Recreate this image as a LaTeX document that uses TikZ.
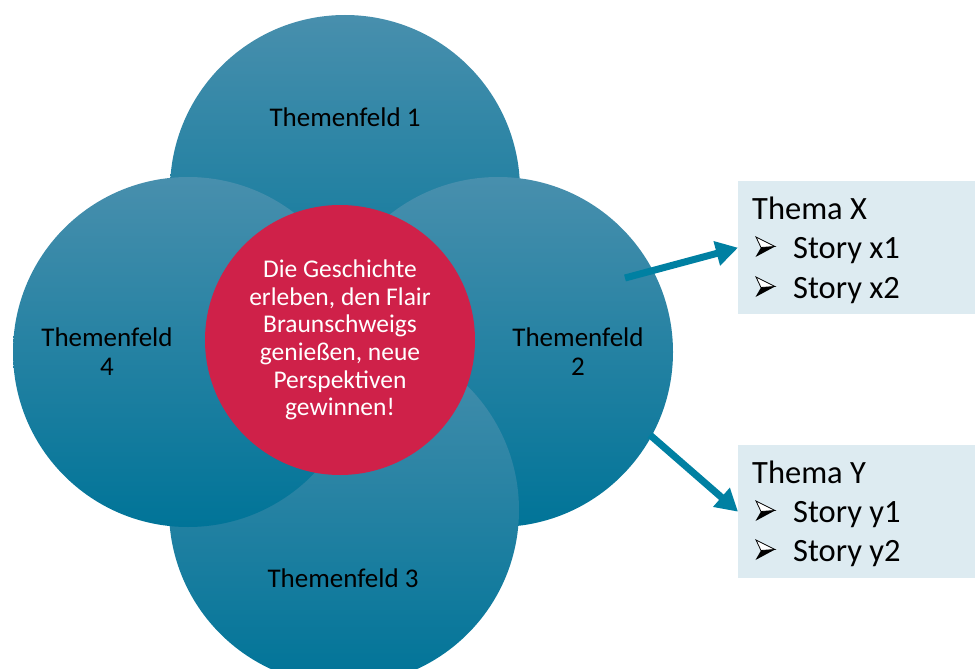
\documentclass[tikz,border=0pt]{standalone}
\usepackage{fontspec}
\setmainfont{Carlito}
\usetikzlibrary{arrows.meta}
\definecolor{circtop}{RGB}{72,143,173}
\definecolor{circmid}{RGB}{0,131,168}
\definecolor{circbot}{RGB}{0,116,152}
\definecolor{centerred}{RGB}{207,33,73}
\definecolor{boxfill}{RGB}{221,235,241}
\definecolor{arrowcol}{RGB}{0,128,162}
\tikzset{
  field/.style={circle, inner sep=0pt, minimum size=350pt, top color=circtop, middle color=circmid, bottom color=circbot, draw=none},
  lbl/.style={font=\fontsize{27}{29}\selectfont, text=black, align=center, inner sep=0pt},
  core/.style={circle, fill=centerred, minimum size=270pt, inner sep=0pt, text=white, font=\fontsize{25.5}{27.7}\selectfont, align=center},
  themebox/.style={fill=boxfill, minimum width=237pt, minimum height=133pt, inner sep=0pt, anchor=north west},
  boxtxt/.style={font=\fontsize{32.5}{39}\selectfont, anchor=base west, inner sep=0pt},
  conn/.style={draw=arrowcol, line width=7pt, -{Triangle[length=22pt,width=24pt]}},
  bulletpic/.pic={
    \filldraw[fill=white, draw=black, line width=0.8pt, line join=miter] (1,0) -- (20,9.5) -- (6,10.5) -- cycle;
    \fill[black] (6,10.5) -- (20,9.5) -- (0.5,20) -- cycle;
  }
}
\begin{document}
\begin{tikzpicture}[x=1pt,y=-1pt]
\useasboundingbox (0,0) rectangle (975,669);
\clip (0,0) rectangle (975,669);
\node[field] (f1) at (345,190) {};
\node[field] (f2) at (498,352) {};
\node[field] (f3) at (344,510) {};
\node[field] (f4) at (188,352) {};
\node[core] (c) at (340,340) {Die Geschichte\\erleben, den Flair\\Braunschweigs\\genießen, neue\\Perspektiven\\gewinnen!};
\node[lbl, anchor=base] (t1) at (345,126) {Themenfeld 1};
\node[lbl] (t4) at (107,352) {Themenfeld\\4};
\node[lbl] (t2) at (578,352) {Themenfeld\\2};
\node[lbl, anchor=base] (t3) at (343,587) {Themenfeld 3};
\node[themebox] (bx) at (738,181) {};
\node[themebox] (by) at (738,445) {};
\node[boxtxt] (xh) at (752,219) {Thema X};
\pic at (755,237) {bulletpic};
\node[boxtxt] (x1) at (793,258) {Story x1};
\pic at (755,277) {bulletpic};
\node[boxtxt] (x2) at (793,298) {Story x2};
\node[boxtxt] (yh) at (752,483) {Thema Y};
\pic at (755,501) {bulletpic};
\node[boxtxt] (y1) at (793,522) {Story y1};
\pic at (755,540) {bulletpic};
\node[boxtxt] (y2) at (793,561) {Story y2};
\coordinate (s1) at (625,278);
\coordinate (s2) at (650,435);
\draw[conn] (s1) -- (bx.west);
\draw[conn] (s2) -- (by.west);
\end{tikzpicture}
\end{document}
